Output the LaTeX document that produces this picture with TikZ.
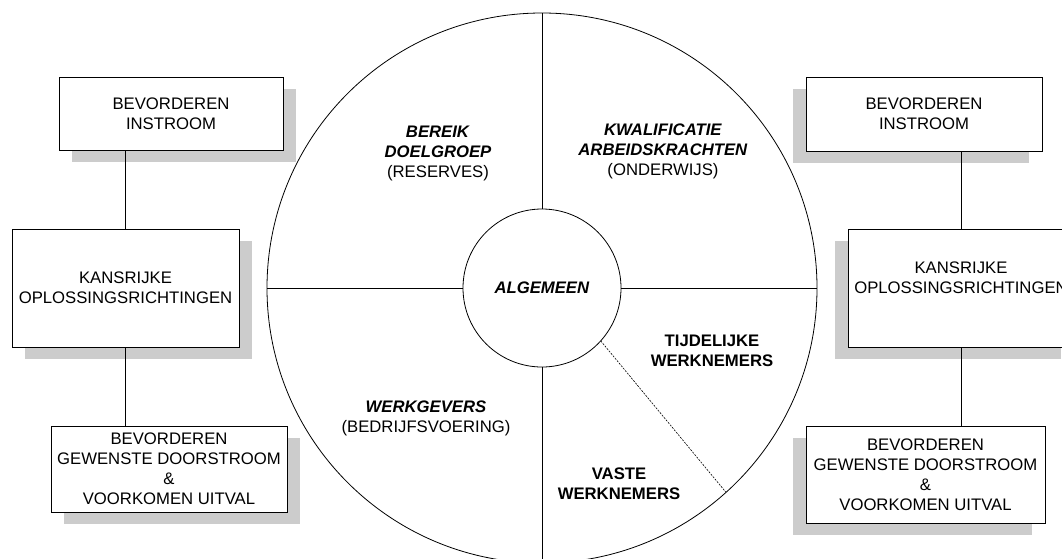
\documentclass[tikz,border=0pt]{standalone}
\usepackage{fontspec}
\setmainfont{Liberation Sans}
\usetikzlibrary{shadows}
\definecolor{shade}{RGB}{204,204,204}
\begin{document}
\begin{tikzpicture}[x=1pt,y=-1pt,
  txt/.style={align=center, inner sep=0pt, font=\fontsize{16.7}{20}\selectfont},
  box/.style={txt, draw, fill=white, line width=0.8pt, outer sep=0pt},
  lshadow/.style={drop shadow={shadow xshift=13pt, shadow yshift=-12pt, fill=shade, opacity=1, draw=none}},
  rshadow/.style={drop shadow={shadow xshift=-13pt, shadow yshift=-12pt, fill=shade, opacity=1, draw=none}},
  ring/.style={circle, draw, line width=0.8pt, inner sep=0pt, outer sep=0pt},
  link/.style={line width=0.8pt},
  spoke/.style={line width=0.8pt},
  divider/.style={line width=0.6pt, dash pattern=on 2pt off 1.2pt}
]
\useasboundingbox (0,0) rectangle (1062,558);
\clip (0,0) rectangle (1062,558);

% wheel
\node[ring, minimum size=550pt] (outer) at (542,288) {};
\node[ring, minimum size=158pt, txt] (inner) at (542,288) {\textbf{\textit{ALGEMEEN}}};
\draw[spoke] (outer.north) -- (inner.north);
\draw[spoke] (inner.south) -- (outer.south);
\draw[spoke] (outer.west) -- (inner.west);
\draw[spoke] (inner.east) -- (outer.east);
\draw[divider] (inner.-42) -- (outer.-48);

\node[txt] (bereik) at (438,153) {\textbf{\textit{BEREIK}}\\\textbf{\textit{DOELGROEP}}\\(RESERVES)};
\node[txt] (kwal) at (663,151) {\textbf{\textit{KWALIFICATIE}}\\\textbf{\textit{ARBEIDSKRACHTEN}}\\(ONDERWIJS)};
\node[txt] (tijd) at (712,351) {\textbf{TIJDELIJKE}\\\textbf{WERKNEMERS}};
\node[txt] (vaste) at (619,484) {\textbf{VASTE}\\\textbf{WERKNEMERS}};
\node[txt] (werk) at (426,418) {\textbf{\textit{WERKGEVERS}}\\(BEDRIJFSVOERING)};

% left column
\node[box, lshadow, minimum width=224pt, minimum height=73pt] (l1) at (171,113.5) {BEVORDEREN\\INSTROOM};
\node[box, lshadow, minimum width=227pt, minimum height=118pt] (l2) at (125.5,288) {KANSRIJKE\\OPLOSSINGSRICHTINGEN};
\node[box, lshadow, minimum width=236pt, minimum height=86pt] (l3) at (169,469) {BEVORDEREN\\GEWENSTE DOORSTROOM\\\&\\VOORKOMEN UITVAL};
\draw[link] (l2.north) -- (l2.north |- l1.south);
\draw[link] (l2.south) -- (l2.south |- l3.north);

% right column
\node[box, rshadow, minimum width=236pt, minimum height=74pt] (r1) at (924,114) {BEVORDEREN\\INSTROOM};
\node[box, rshadow, minimum width=226pt, minimum height=118pt] (r2) at (961,288) {KANSRIJKE\\OPLOSSINGSRICHTINGEN\\\mbox{}};
\node[box, rshadow, minimum width=239pt, minimum height=97pt] (r3) at (925.5,474.5) {BEVORDEREN\\GEWENSTE DOORSTROOM\\\&\\VOORKOMEN UITVAL};
\draw[link] (r2.north) -- (r2.north |- r1.south);
\draw[link] (r2.south) -- (r2.south |- r3.north);
\end{tikzpicture}
\end{document}
